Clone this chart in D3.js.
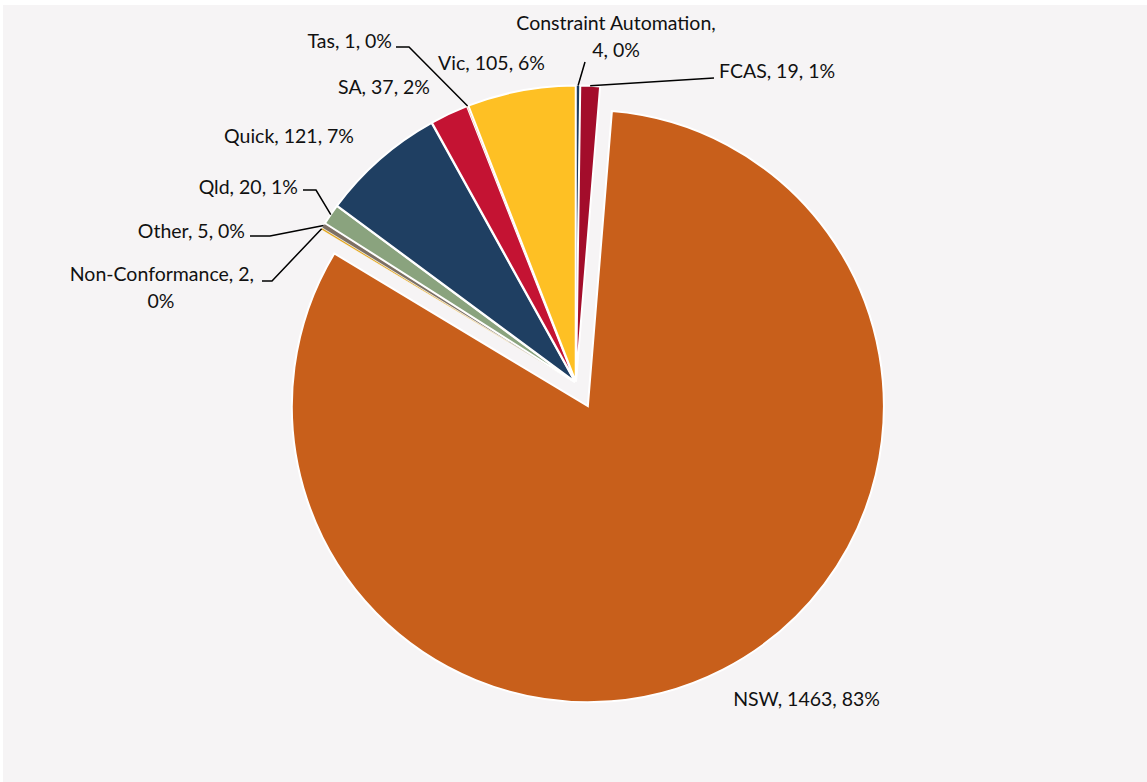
<!DOCTYPE html>
<html>
<head>
<meta charset="utf-8">
<script src="https://cdn.jsdelivr.net/npm/d3@7"></script>
<style>
  html, body { margin: 0; padding: 0; background: #ffffff; }
  svg { display: block; }
</style>
</head>
<body>
<div id="chart"></div>
<script>
// Slices, clockwise from 12 o'clock.
const categories = ['Constraint Automation', 'FCAS', 'NSW', 'Non-Conformance', 'Other',
                    'Qld', 'Quick', 'SA', 'Tas', 'Vic'];
const counts = [4, 19, 1463, 2, 5, 20, 121, 37, 1, 105];
const percentLabels = ['0%', '1%', '83%', '0%', '0%', '1%', '7%', '2%', '0%', '6%'];
const colors = ['#1f3d5e', '#a30d2b', '#c85f1b', '#e3a71f', '#7d7064',
                '#8aa37e', '#1f3f62', '#c41333', '#e8702a', '#fec024'];

// Label layout: anchor point, text-anchor, elbow of the leader (null = no leader)
const labelLayout = [
  { x: 616, y: 22, anchor: 'middle', second: 616, elbow: [[585, 62]] },
  { x: 719, y: 70, anchor: 'start', elbow: [[714, 78]] },
  { x: 880, y: 698, anchor: 'end', elbow: null },
  { x: 254, y: 273, anchor: 'end', second: 161, elbow: [[262, 281], [272, 281]] },
  { x: 245, y: 230, anchor: 'end', elbow: [[250, 236], [270, 236]] },
  { x: 298, y: 186, anchor: 'end', elbow: [[303, 190], [316, 190]] },
  { x: 354, y: 135, anchor: 'end', elbow: null },
  { x: 430, y: 86, anchor: 'end', elbow: null },
  { x: 392, y: 40, anchor: 'end', elbow: [[396, 47], [409, 47]] },
  { x: 545, y: 62, anchor: 'end', elbow: null }
];
// Labels that wrap onto a second line break after this many words
const wrapAfter = [2, null, null, 2, null, null, null, null, null, null];
const explode = [1.5, 1.5, 26, 1.5, 1.5, 1.5, 1.5, 1.5, 1.5, 1.5];

const width = 1147;
const height = 782;
const cx = 576;
const cy = 383;
const radius = 296;
const fontFamily = 'Lato, "Open Sans", sans-serif';

const svg = d3.select('#chart').append('svg')
    .attr('width', width)
    .attr('height', height)
    .attr('viewBox', [0, 0, width, height]);

// Chart area background
svg.append('rect')
    .attr('x', 3).attr('y', 5)
    .attr('width', width - 3).attr('height', height - 5)
    .attr('fill', '#f6f4f5');

const data = categories.map((c, i) => ({ name: c, value: counts[i], idx: i }));

const pie = d3.pie().sort(null).value(d => d.value);
const arcs = pie(data);
const arc = d3.arc().innerRadius(0).outerRadius(radius);

function offsetOf(a) {
  const mid = (a.startAngle + a.endAngle) / 2;
  const e = explode[a.index];
  return [Math.sin(mid) * e, -Math.cos(mid) * e];
}

const g = svg.append('g').attr('transform', `translate(${cx},${cy})`);

// Thin slices get a hairline border so they stay visible
g.selectAll('path.slice')
  .data(arcs)
  .join('path')
    .attr('class', 'slice')
    .attr('d', arc)
    .attr('fill', d => colors[d.index])
    .attr('stroke', '#ffffff')
    .attr('stroke-width', d => (d.endAngle - d.startAngle) < 0.03 ? 0.5 : 2)
    .attr('transform', d => {
      const [ox, oy] = offsetOf(d);
      return `translate(${ox},${oy})`;
    });

// Leader lines
const leaders = svg.append('g');
arcs.forEach(a => {
  const lay = labelLayout[a.index];
  if (!lay.elbow) return;
  const mid = (a.startAngle + a.endAngle) / 2;
  const [ox, oy] = offsetOf(a);
  const end = [cx + ox + Math.sin(mid) * radius, cy + oy - Math.cos(mid) * radius];
  leaders.append('path')
      .attr('d', d3.line()(lay.elbow.concat([end])))
      .attr('fill', 'none')
      .attr('stroke', '#000000')
      .attr('stroke-width', 1.5);
});

// Labels: "Category, value, percent"
const labels = svg.append('g')
    .attr('font-family', fontFamily)
    .attr('font-size', '19.5px')
    .attr('fill', '#111111');

arcs.forEach(a => {
  const i = a.index;
  const lay = labelLayout[i];
  const words = `${categories[i]}, ${counts[i]}, ${percentLabels[i]}`.split(' ');
  const lines = wrapAfter[i] ? [words.slice(0, wrapAfter[i]).join(' '), words.slice(wrapAfter[i]).join(' ')]
                             : [words.join(' ')];
  const t = labels.append('text')
      .attr('text-anchor', lay.anchor)
      .attr('x', lay.x)
      .attr('y', lay.y)
      .attr('dominant-baseline', 'central');
  lines.forEach((ln, j) => {
    const span = t.append('tspan')
        .attr('x', j === 0 ? lay.x : lay.second)
        .attr('dy', j === 0 ? 0 : 27)
        .text(ln);
    if (j === 1) span.attr('text-anchor', 'middle');
  });
});
</script>
</body>
</html>
